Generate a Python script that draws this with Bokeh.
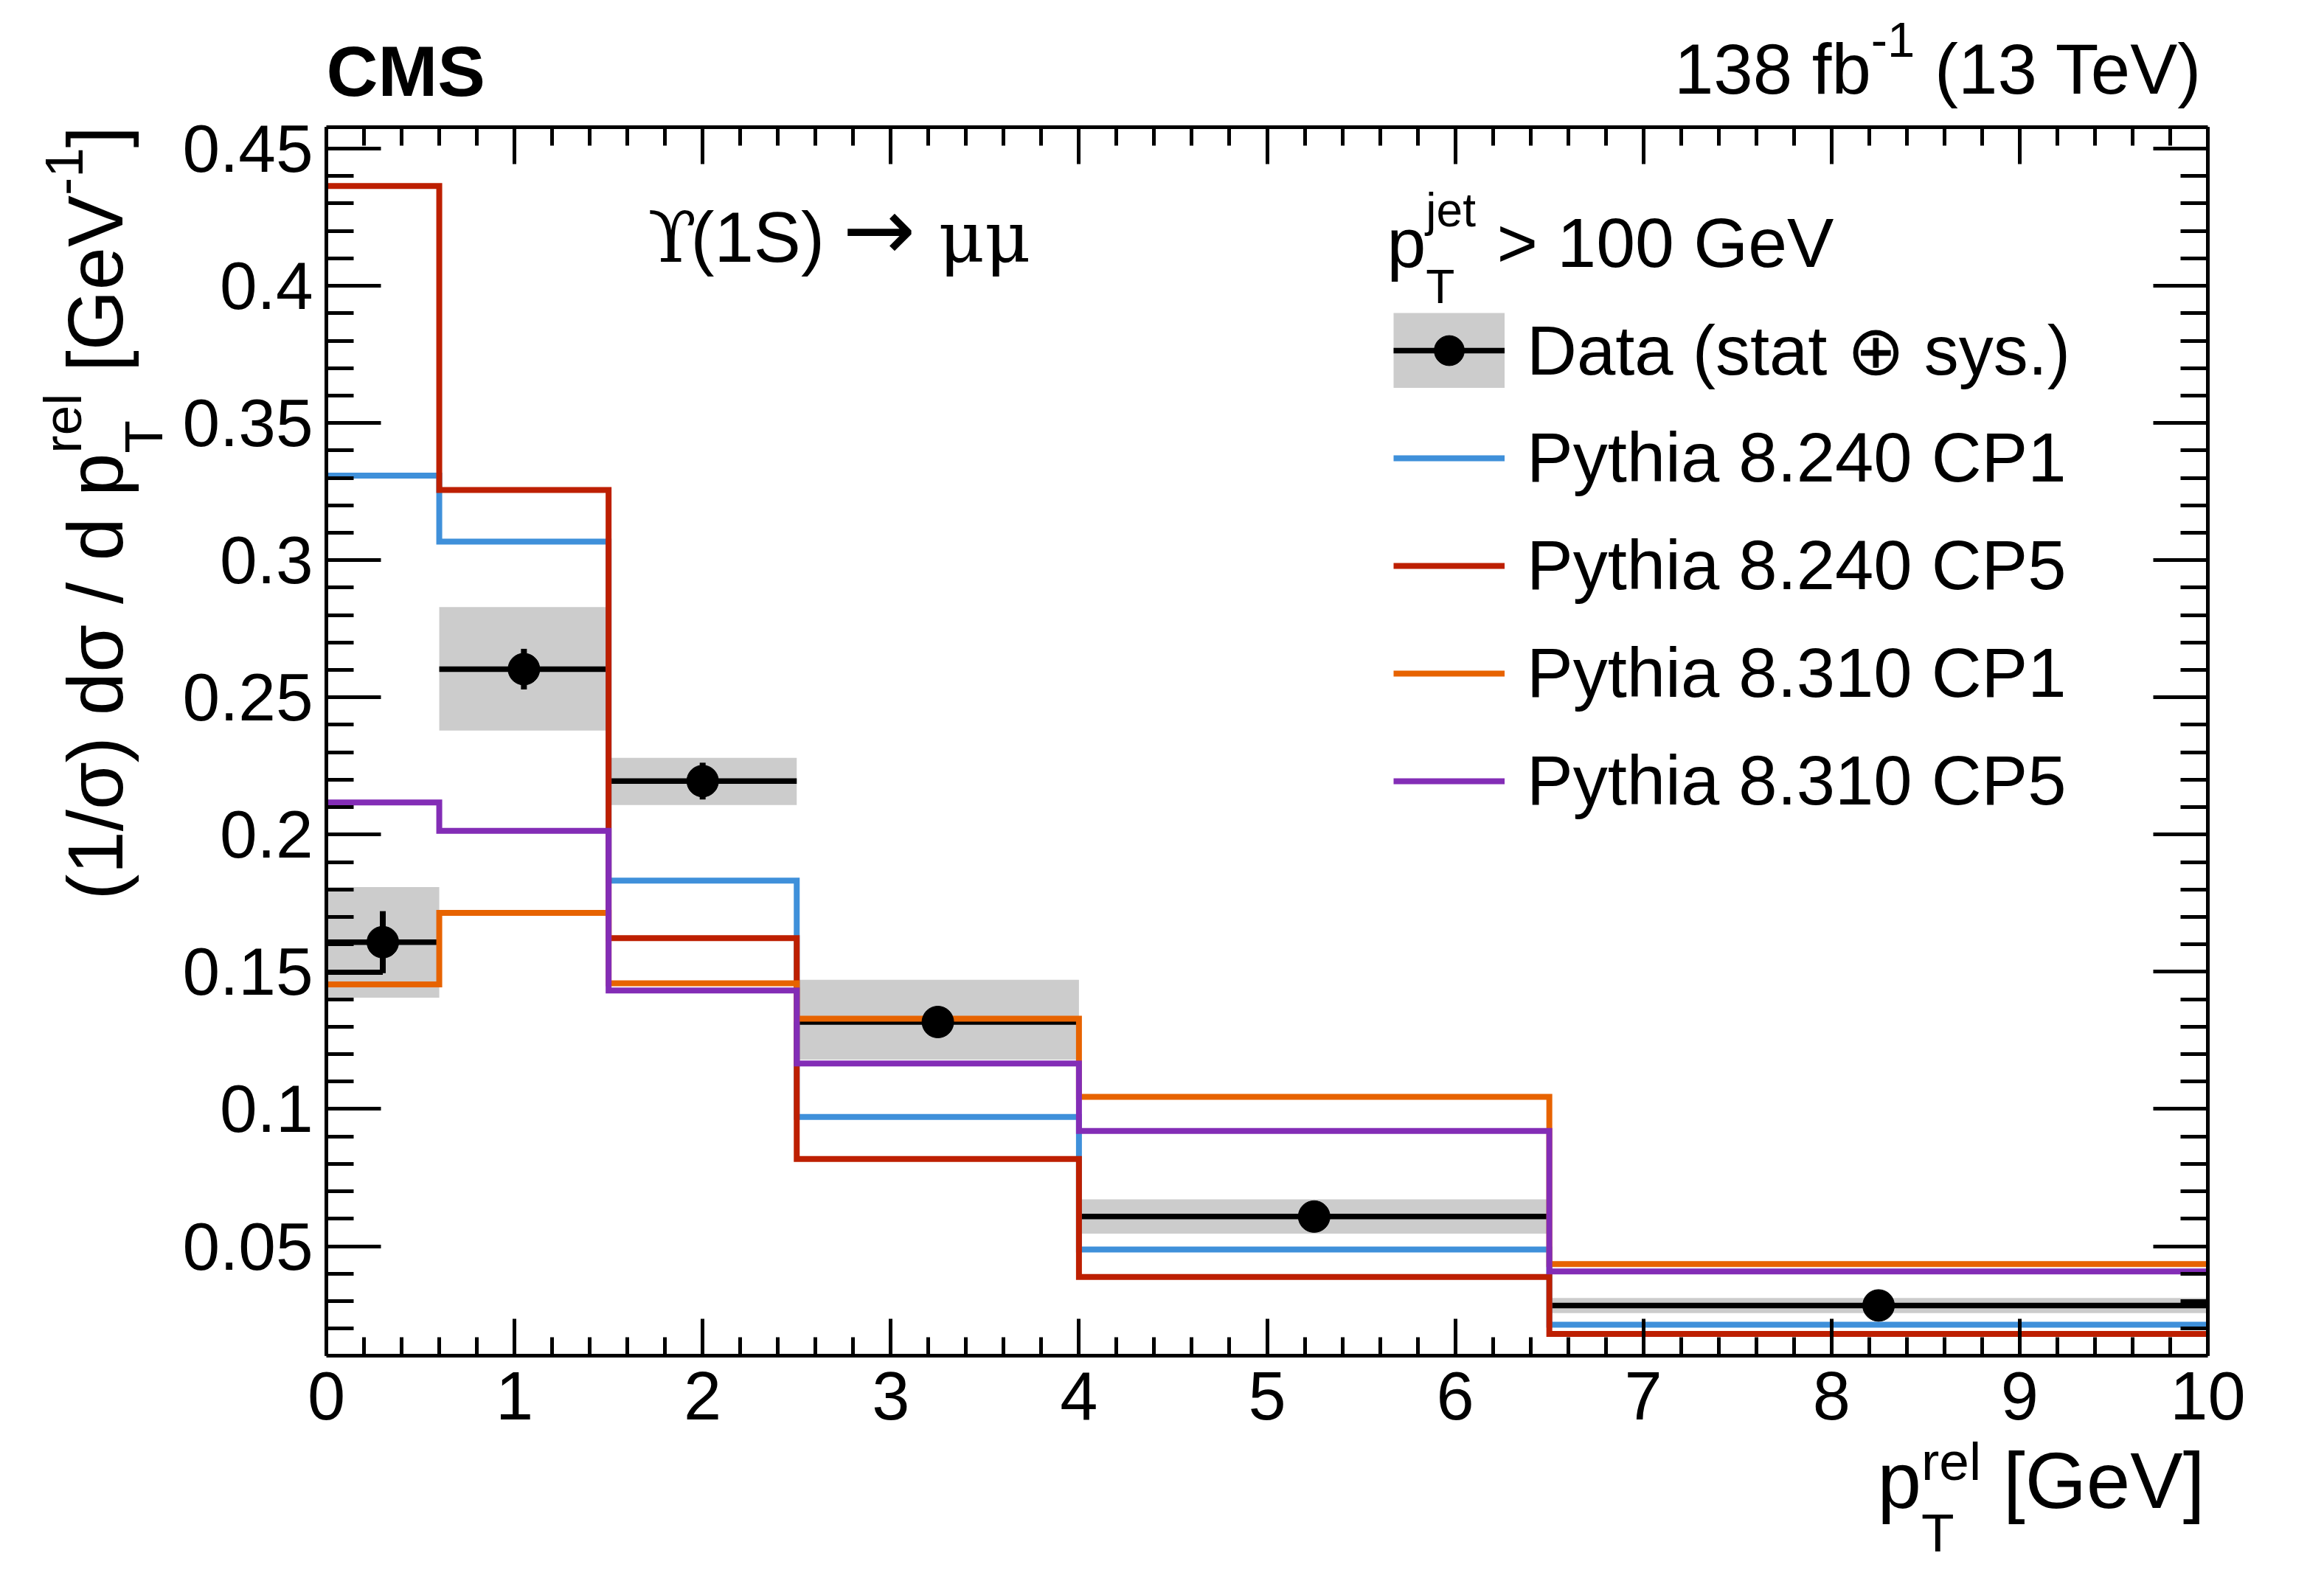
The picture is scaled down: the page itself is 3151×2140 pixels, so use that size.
import numpy as np
from bokeh.plotting import figure
from bokeh.layouts import column, row
from bokeh.models import (Range1d, LinearAxis, FixedTicker, Label, Legend,
                          LegendItem, ColumnDataSource)
from bokeh.embed import file_html
from bokeh.resources import INLINE

# ---------------- data ----------------
bin_edges = [0.0, 0.6, 1.5, 2.5, 4.0, 6.5, 10.0]
data_y = [0.1608, 0.2603, 0.2195, 0.1317, 0.0608, 0.0284]
data_stat = [0.0113, 0.0074, 0.0067, 0.0035, 0.0020, 0.0015]
band_low = [0.1406, 0.2379, 0.2108, 0.1180, 0.0546, 0.0256]
band_high = [0.1809, 0.2829, 0.2280, 0.1471, 0.0671, 0.0311]

pythia8240_cp1 = [0.3308, 0.3068, 0.1832, 0.0971, 0.0488, 0.0214]
pythia8240_cp5 = [0.4364, 0.3256, 0.1623, 0.0818, 0.0388, 0.0180]
pythia8310_cp1 = [0.1454, 0.1715, 0.1458, 0.1329, 0.1044, 0.0435]
pythia8310_cp5 = [0.2117, 0.2014, 0.1432, 0.1166, 0.0920, 0.0408]

series_names = ["Pythia 8.240 CP1", "Pythia 8.240 CP5",
                "Pythia 8.310 CP1", "Pythia 8.310 CP5"]
series_values = [pythia8240_cp1, pythia8240_cp5, pythia8310_cp1, pythia8310_cp5]
series_colors = ["#3f90da", "#bd1f01", "#e76300", "#832db6"]

x_ticks = [0, 1, 2, 3, 4, 5, 6, 7, 8, 9, 10]
x_tick_labels = ["0", "1", "2", "3", "4", "5", "6", "7", "8", "9", "10"]
y_ticks = [0.05, 0.10, 0.15, 0.20, 0.25, 0.30, 0.35, 0.40, 0.45]
y_tick_labels = ["0.05", "0.1", "0.15", "0.2", "0.25", "0.3", "0.35", "0.4", "0.45"]

# ---------------- layout constants (picture pixels) ----------------
TOTAL_W, TOTAL_H = 3135, 2124
TOP_H = 150            # strip with CMS / luminosity
LEFT_W = 232           # strip with the y-axis title
MID_BOTTOM = 1952      # end of main figure
FL, FR, FT, FB = 442, 2993, 172, 1838      # frame edges
FONT = "Liberation Sans"
MID = 0.35             # baseline offset of a "middle" anchored text, in em


def side_fig(x0, x1, y0, y1):
    f = figure(width=x1 - x0, height=y1 - y0,
               x_range=Range1d(x0, x1), y_range=Range1d(y1, y0),
               x_axis_type=None, y_axis_type=None,
               output_backend="svg", toolbar_location=None, min_border=0)
    f.grid.visible = False
    f.outline_line_color = None
    f.background_fill_color = "white"
    f.border_fill_color = "white"
    return f


top_fig = side_fig(0, TOTAL_W, 0, TOP_H)
bottom_fig = side_fig(0, TOTAL_W, MID_BOTTOM, TOTAL_H)
# left strip: its frame is aligned with the main frame (FT..FB) by the row,
# so its upright y range is data y = FB - picture y
left_fig = figure(width=LEFT_W, height=MID_BOTTOM - TOP_H,
                  x_range=Range1d(0, LEFT_W), y_range=Range1d(0, FB - FT),
                  x_axis_type=None, y_axis_type=None,
                  output_backend="svg", toolbar_location=None, min_border=0)
left_fig.grid.visible = False
left_fig.outline_line_color = None
left_fig.background_fill_color = "white"
left_fig.border_fill_color = "white"

p = figure(frame_width=FR - FL, frame_height=FB - FT,
           x_range=Range1d(0, 10), y_range=Range1d(0.0101, 0.4578),
           output_backend="svg", toolbar_location=None,
           min_border_left=FL - LEFT_W, min_border_right=TOTAL_W - FR,
           min_border_top=FT - TOP_H, min_border_bottom=MID_BOTTOM - FB)
p.grid.visible = False
p.outline_line_color = None
p.background_fill_color = "white"
p.border_fill_color = "white"

x_minor = list(np.round(np.arange(0, 10.001, 0.2), 3))
y_minor = list(np.round(np.arange(0.01, 0.4601, 0.01), 3))


def style_axis(ax, ticks, minor, labels, tick_in, minor_in, show_labels, size):
    ax.ticker = FixedTicker(ticks=ticks, minor_ticks=minor)
    ax.axis_line_width = 5
    ax.axis_line_color = "black"
    ax.major_tick_line_width = 5
    ax.minor_tick_line_width = 5
    ax.major_tick_in = tick_in
    ax.major_tick_out = 0
    ax.minor_tick_in = minor_in
    ax.minor_tick_out = 0
    ax.major_label_overrides = {t: l for t, l in zip(ticks, labels)}
    ax.major_label_text_font = FONT
    if show_labels:
        ax.major_label_text_font_size = f"{size}px"
        ax.major_label_text_color = "black"
    else:
        ax.major_label_text_font_size = "10px"
        ax.major_label_text_alpha = 0
        ax.major_label_standoff = 0


style_axis(p.xaxis[0], x_ticks, x_minor, x_tick_labels, 50, 25, True, 92)
p.xaxis[0].major_label_standoff = 22
style_axis(p.yaxis[0], y_ticks, y_minor, y_tick_labels, 74, 37, True, 91)
p.yaxis[0].major_label_standoff = 18

ax_top = LinearAxis()
style_axis(ax_top, x_ticks, x_minor, x_tick_labels, 50, 25, False, 10)
p.add_layout(ax_top, "above")
ax_right = LinearAxis()
style_axis(ax_right, y_ticks, y_minor, y_tick_labels, 74, 37, False, 10)
p.add_layout(ax_right, "right")

# ---------------- glyphs ----------------
left = bin_edges[:-1]
right = bin_edges[1:]
centers = [(a + b) / 2 for a, b in zip(left, right)]
src = ColumnDataSource(dict(
    left=left, right=right, lo=band_low, hi=band_high, x=centers, y=data_y,
    ylo=[y - s for y, s in zip(data_y, data_stat)],
    yhi=[y + s for y, s in zip(data_y, data_stat)]))

p.quad(left="left", right="right", bottom="lo", top="hi", source=src,
       fill_color="#cccccc", line_color=None)
hbar_r = p.segment(x0="left", y0="y", x1="right", y1="y", source=src,
                   line_color="black", line_width=7.5)
p.segment(x0="x", y0="ylo", x1="x", y1="yhi", source=src,
          line_color="black", line_width=8)
# thin lower tick drawn for the first bin in the original
p.segment(x0=[left[0]], y0=[data_y[0] - data_stat[0]], x1=[centers[0]],
          y1=[data_y[0] - data_stat[0]], line_color="black", line_width=4.5)

step_renderers = []
for vals, col in zip(series_values, series_colors):
    r = p.step(x=bin_edges, y=vals + [vals[-1]], mode="after",
               line_color=col, line_width=8, line_join="miter")
    step_renderers.append(r)

marker_r = p.scatter(x="x", y="y", source=src, marker="circle", size=43,
                     fill_color="black", line_color="black")

# legend-only proxy (NaN -> nothing drawn in the plot): full-size grey band
nan1 = np.array([np.nan])
legend_band_r = p.segment(x0=nan1, y0=nan1, x1=nan1, y1=nan1,
                          line_color="#cccccc", line_width=102, line_cap="butt")

# ---------------- legend ----------------
items = [LegendItem(label="Data (stat \u2295 sys.)",
                    renderers=[legend_band_r, hbar_r, marker_r])]
for name, r in zip(series_names, step_renderers):
    items.append(LegendItem(label=name, renderers=[r]))

ROW_H, ROW_SP = 114, 32
leg_h = 5 * ROW_H + 4 * ROW_SP
legend = Legend(items=items, location=(1889 - FL, FB - 418 - leg_h),
                glyph_width=151, glyph_height=102, label_height=ROW_H,
                label_standoff=30, spacing=ROW_SP, padding=0, margin=0,
                border_line_color=None, background_fill_alpha=0,
                label_text_font=FONT, label_text_font_size="94px",
                label_text_color="black")
p.add_layout(legend)

# ---------------- texts ----------------
AW = {' ': 278, '(': 333, ')': 333, '0': 556, '1': 556, '3': 556, '8': 556,
      '/': 278, '\u03c3': 606, 'd': 556, 'p': 556, 'r': 333, 'e': 556,
      'l': 222, '[': 278, ']': 278, 'G': 778, 'V': 667, '-': 333, 'f': 278,
      'b': 556, 'T': 611, 'j': 222, 't': 278, '>': 584, 'S': 667}


def tw(s, size):
    return sum(AW.get(c, 556) for c in s) * size / 1000.0


def put_main(text, px, base_y, size, font=FONT, style="normal"):
    """Text inside the main frame; px / base_y are picture pixels."""
    p.add_layout(Label(x=px - FL, y=FB - (base_y - MID * size),
                       x_units="screen", y_units="screen",
                       text=text, text_font=font, text_font_size=f"{size}px",
                       text_font_style=style, text_align="left",
                       text_baseline="middle", text_color="black"))


def put_side(fig, text, px, base_y, size, font=FONT, style="normal"):
    fig.add_layout(Label(x=px, y=base_y - MID * size, x_units="data", y_units="data",
                         text=text, text_font=font, text_font_size=f"{size}px",
                         text_font_style=style, text_align="left",
                         text_baseline="middle", text_color="black"))


def put_rot(text, base_x, start_y, size):
    """Rotated text reading upward, starting at picture y = start_y."""
    left_fig.add_layout(Label(x=base_x - MID * size, y=FB - start_y,
                              x_units="data", y_units="data",
                              text=text, text_font=FONT, text_font_size=f"{size}px",
                              text_align="left", text_baseline="middle",
                              text_color="black", angle=np.pi / 2))


# CMS
put_side(top_fig, "CMS", 442, 130, 97, style="bold")

# luminosity text (right aligned at the frame's right edge)
LF, LS = 96, 67
x3 = 2996 - tw(" (13 TeV)", LF)
x2 = x3 - tw("-1", LS)
put_side(top_fig, "(13 TeV)", x3 + tw(" ", LF), 127, LF)
put_side(top_fig, "-1", x2, 77, LS)
put_side(top_fig, "138 fb", x2 - tw("138 fb", LF), 127, LF)

# process label
put_main("\u03d2", 878, 355, 96, font="DejaVu Serif")
put_main("(1S)", 936, 355, 96)
put_main("\u2192", 1142, 352, 118, font="DejaVu Sans")
put_main("\u03bc\u03bc", 1272, 355, 96, font="DejaVu Serif")

# legend header
HF, HS = 95, 64
put_main("p", 1880, 362, HF)
put_main("jet", 1880 + tw("p", HF), 307, HS)
put_main("T", 1880 + tw("p", HF), 411, HS)
put_main("> 100 GeV", 2029, 362, HF)

# x-axis title (right aligned at frame right)
XF, XS = 107, 73
xb = 2045
xg = 2989 - tw(" [GeV]", XF)
xs = xg - tw("rel", XS)
xp = xs - tw("p", XF)
put_side(bottom_fig, "p", xp, xb, XF)
put_side(bottom_fig, "rel", xs, xb - 38, XS)
put_side(bottom_fig, "T", xs, xb + 59, XS)
put_side(bottom_fig, "[GeV]", xg + tw(" ", XF), xb, XF)

# y-axis title (rotated, reading upward), placed piece by piece
YF, YS = 105, 73
yb = 166
pos = 1220
for piece in ["(1/", "\u03c3", ")", " ", "d", "\u03c3", " ", "/", " ", "d", " "]:
    if piece != " ":
        put_rot(piece, yb, pos, YF)
    pos -= tw(piece, YF)
put_rot("p", yb, pos, YF)
pos -= tw("p", YF)
put_rot("rel", yb - 56, pos, YS)
put_rot("T", yb + 54, pos, YS)
pos -= tw("rel", YS) + tw(" ", YF)
put_rot("[GeV", yb, pos, YF)
pos -= tw("[GeV", YF)
put_rot("-1", yb - 54, pos, YS)
pos -= tw("-1", YS)
put_rot("]", yb, pos, YF)

layout = column(top_fig, row(left_fig, p), bottom_fig)
open("out.html", "w").write(file_html(layout, INLINE))
